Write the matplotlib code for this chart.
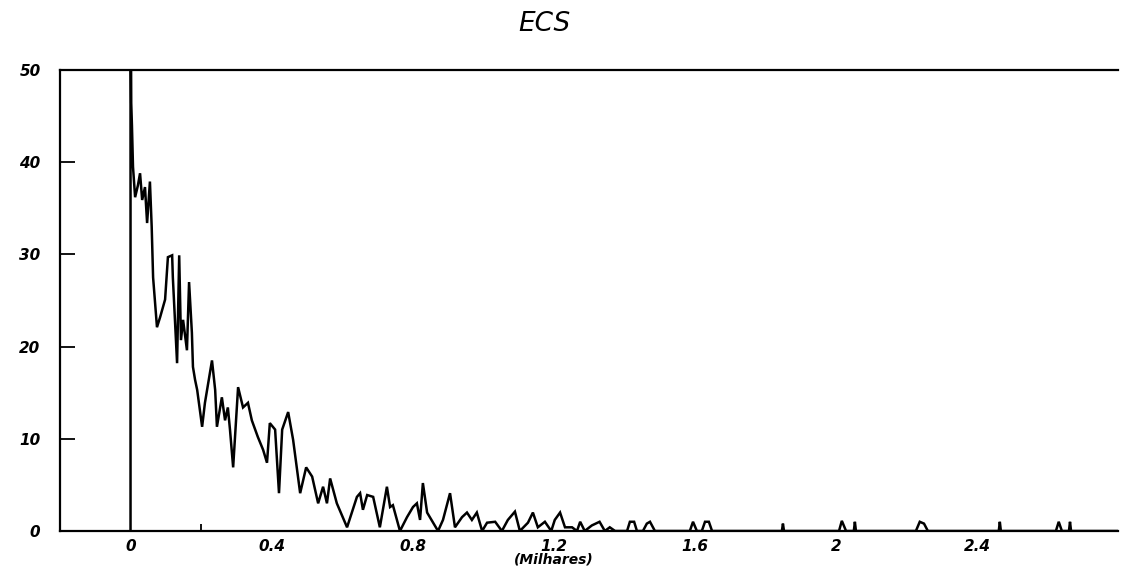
import numpy as np
import matplotlib
matplotlib.use("Agg")
import matplotlib.pyplot as plt

# trace (x in thousands, y in counts)
x_vals = [0.0, 0.0, 0.001, 0.002, 0.004, 0.007, 0.013, 0.021, 0.027, 0.033, 0.041,
          0.047, 0.055, 0.060, 0.064, 0.075, 0.084, 0.098, 0.106, 0.118, 0.120,
          0.132, 0.138, 0.143, 0.149, 0.160, 0.166, 0.174, 0.177, 0.183, 0.189,
          0.203, 0.211, 0.231, 0.240, 0.245, 0.259, 0.268, 0.276, 0.282, 0.291,
          0.305, 0.319, 0.333, 0.344, 0.361, 0.376, 0.387, 0.395, 0.410, 0.421,
          0.430, 0.447, 0.461, 0.481, 0.498, 0.515, 0.532, 0.546, 0.557, 0.566,
          0.585, 0.614, 0.642, 0.651, 0.659, 0.671, 0.688, 0.707, 0.727, 0.736,
          0.744, 0.764, 0.784, 0.801, 0.812, 0.821, 0.829, 0.841, 0.858, 0.872,
          0.886, 0.906, 0.920, 0.940, 0.954, 0.968, 0.982, 0.997, 1.011, 1.034,
          1.053, 1.070, 1.090, 1.104, 1.127, 1.141, 1.155, 1.175, 1.193, 1.203,
          1.218, 1.232, 1.252, 1.266, 1.275, 1.288, 1.308, 1.330, 1.345, 1.359,
          1.374, 1.408, 1.416, 1.428, 1.436, 1.453, 1.464, 1.473, 1.487, 1.586,
          1.595, 1.606, 1.620, 1.629, 1.640, 1.649, 1.847, 1.850, 1.853, 2.009,
          2.017, 2.029, 2.051, 2.054, 2.057, 2.227, 2.238, 2.250, 2.261, 2.462,
          2.465, 2.468, 2.624, 2.632, 2.641, 2.661, 2.664, 2.667, 2.800]
y_vals = [0, 60, 55, 46.4, 44, 39.5, 36.2, 37.5, 38.8, 35.9, 37.3,
          33.4, 37.9, 33, 27.5, 22.1, 23.2, 25.1, 29.7, 29.9, 27.5,
          18.2, 29.9, 20.7, 22.9, 19.6, 27, 21.5, 17.8, 16.4, 15.3,
          11.3, 13.9, 18.5, 15.3, 11.3, 14.5, 12, 13.4, 11, 6.9,
          15.6, 13.4, 13.9, 12, 10.2, 8.8, 7.4, 11.7, 11, 4.1,
          11, 12.9, 9.9, 4.1, 6.9, 5.9, 3, 4.8, 3, 5.7,
          3, 0.4, 3.7, 4.1, 2.3, 3.9, 3.7, 0.4, 4.8, 2.6,
          2.8, 0, 1.5, 2.6, 3, 1.2, 5.2, 2, 0.9, 0,
          1.2, 4.1, 0.4, 1.5, 2, 1.2, 2, 0, 0.9, 1,
          0, 1.2, 2.1, 0, 0.9, 2, 0.4, 1, 0, 1.2,
          2, 0.4, 0.4, 0, 1, 0, 0.6, 1, 0, 0.4,
          0, 0, 1, 1, 0, 0, 0.8, 1, 0, 0,
          1, 0, 0, 1, 1, 0, 0, 0.8, 0, 0,
          1.1, 0, 0, 1, 0, 0, 1, 0.8, 0, 0,
          1, 0, 0, 1, 0, 0, 1, 0, 0]

x_ticks = [0, 0.4, 0.8, 1.2, 1.6, 2.0, 2.4]
x_labels = ["0", "0.4", "0.8", "1.2", "1.6", "2", "2.4"]
y_ticks = [0, 10, 20, 30, 40, 50]
y_labels = ["0", "10", "20", "30", "40", "50"]

fig = plt.figure(figsize=(11.32, 5.69), dpi=100)
ax = fig.add_axes([0.053, 0.0668, 0.9346, 0.8102])

ax.plot(x_vals, y_vals, color="black", lw=1.8, solid_joinstyle="miter")

ax.set_xlim(-0.2, 2.8)
ax.set_ylim(0, 50)

ax.set_xticks(x_ticks)
ax.set_xticklabels(x_labels, fontsize=11, fontweight="bold", style="italic")
ax.set_yticks(y_ticks)
ax.set_yticklabels(y_labels, fontsize=11, fontweight="bold", style="italic")
ax.tick_params(axis="x", length=0, pad=6)
ax.tick_params(axis="y", direction="in", length=11, width=1.3, pad=14)
ax.set_xticks([0.2, 0.4], minor=True)
ax.tick_params(axis="x", which="minor", direction="in", length=5, width=1.3)

for side in ["left", "bottom", "top"]:
    ax.spines[side].set_linewidth(1.6)
ax.spines["right"].set_visible(False)

ax.text(1.2, -0.062, "(Milhares)", transform=ax.get_xaxis_transform(),
        ha="center", va="center", fontsize=10, fontweight="bold", style="italic")

fig.text(0.481, 0.958, "ECS", ha="center", va="center", fontsize=19, style="italic")

fig.savefig("out.png", dpi=100)
